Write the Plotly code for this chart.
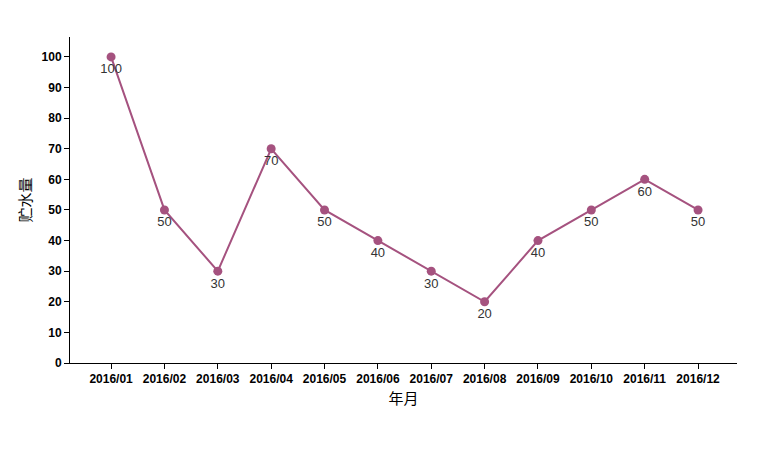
import plotly.graph_objects as go

# monthly storage values
months = ['2016/01', '2016/02', '2016/03', '2016/04', '2016/05', '2016/06',
          '2016/07', '2016/08', '2016/09', '2016/10', '2016/11', '2016/12']
storage = [100, 50, 30, 70, 50, 40, 30, 20, 40, 50, 60, 50]

fig = go.Figure(go.Scatter(
    x=months, y=storage,
    mode='lines+markers+text',
    line=dict(color='#a5527f', width=2),
    marker=dict(color='#a5527f', size=9),
    text=[str(v) for v in storage],
    textposition='bottom center',
    textfont=dict(color='#333333', size=13, family='Arial'),
))

# page body adds an 8px offset, so shift the plot area up-left
fig.update_layout(
    width=778, height=450,
    margin=dict(l=62, r=49, t=29, b=95),
    plot_bgcolor='white', paper_bgcolor='white',
    showlegend=False,
    font=dict(family='Arial, Noto Sans CJK SC', color='#000000'),
)
fig.update_xaxes(
    range=[-0.77, 11.73], showgrid=False, showline=True, linecolor='#000000',
    ticks='outside', ticklen=5, tickcolor='#000000',
    tickfont=dict(size=12, family='Arial', weight='bold'),
    title=dict(text='年月', font=dict(size=15, family='Noto Sans CJK SC'), standoff=8),
)
fig.update_yaxes(
    range=[0, 106.5], dtick=10, showgrid=False, showline=True, linecolor='#000000',
    ticks='outside', ticklen=5, tickcolor='#000000', zeroline=False,
    tickfont=dict(size=12, family='Arial', weight='bold'),
    title=dict(text='贮水量', font=dict(size=15, family='Noto Sans CJK SC'), standoff=6),
)

fig.write_html("out.html")
